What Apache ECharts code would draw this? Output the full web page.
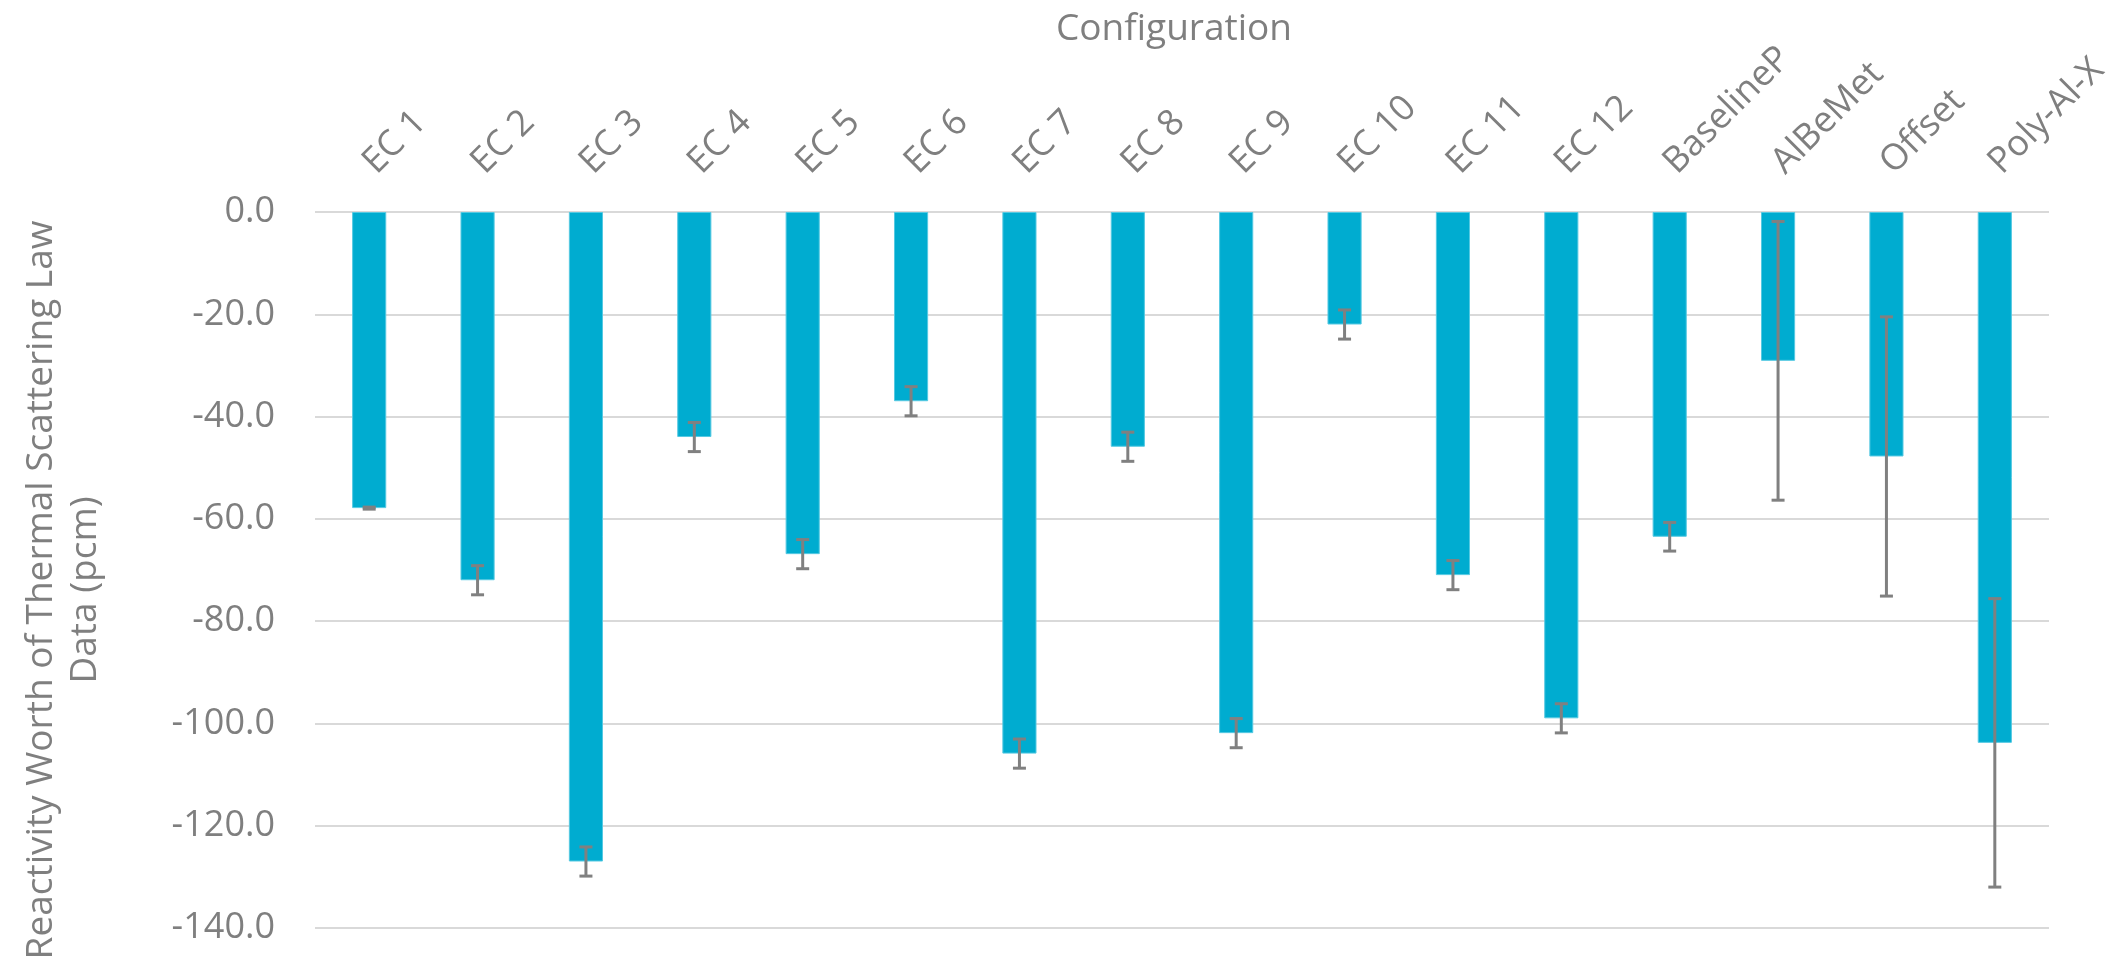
<!DOCTYPE html>
<html>
<head>
<meta charset="utf-8">
<style>
  html, body { margin: 0; padding: 0; background: #ffffff; }
  #chart { width: 2118px; height: 964px; }
</style>
<script src="https://cdn.jsdelivr.net/npm/echarts@6/dist/echarts.min.js"></script>
</head>
<body>
<div id="chart"></div>
<script>
// Reactivity worth (pcm) per configuration, with symmetric uncertainties
const categories = ['EC 1', 'EC 2', 'EC 3', 'EC 4', 'EC 5', 'EC 6', 'EC 7', 'EC 8',
  'EC 9', 'EC 10', 'EC 11', 'EC 12', 'BaselineP', 'AlBeMet', 'Offset', 'Poly-Al-X'];
const worth = [-57.9, -72.0, -127.0, -44.0, -66.9, -37.0, -105.9, -45.9,
  -101.9, -22.0, -71.0, -99.0, -63.5, -29.1, -47.8, -103.8];
const uncertainty = [0.2, 2.85, 2.85, 2.85, 2.85, 2.85, 2.85, 2.85,
  2.85, 2.85, 2.85, 2.85, 2.8, 27.25, 27.3, 28.2];
const yTicks = { min: -140, max: 0, step: 20 };

const textGrey = '#7f7f7f';
const font = 'Open Sans';

const chart = echarts.init(document.getElementById('chart'), null, { renderer: 'canvas' });

const errorData = categories.map((c, i) => [i, worth[i], uncertainty[i]]);

chart.setOption({
  animation: false,
  backgroundColor: '#ffffff',
  grid: {
    left: 315, right: 69, top: 212, bottom: 36,
    containLabel: false,
    outerBoundsMode: 'none'
  },
  xAxis: {
    type: 'category',
    position: 'top',
    data: categories,
    name: 'Configuration',
    nameLocation: 'middle',
    nameGap: 164,
    nameMoveOverlap: false,
    nameTextStyle: { color: textGrey, fontFamily: font, fontSize: 37, padding: [0, 16, 0, 0] },
    axisLine: { show: false },
    axisTick: { show: false },
    axisLabel: {
      rotate: 45,
      margin: 44,
      color: textGrey,
      fontFamily: font,
      fontSize: 36,
      interval: 0
    },
    splitLine: { show: false }
  },
  yAxis: {
    type: 'value',
    min: yTicks.min,
    max: yTicks.max,
    interval: yTicks.step,
    name: 'Reactivity Worth of Thermal Scattering Law\nData (pcm)',
    nameLocation: 'middle',
    nameGap: 208,
    nameMoveOverlap: false,
    nameTextStyle: {
      color: textGrey, fontFamily: font, fontSize: 37, lineHeight: 44,
      align: 'center', padding: [0, 40, 0, 0]
    },
    axisLine: { show: false },
    axisTick: { show: false },
    axisLabel: {
      margin: 40,
      color: textGrey,
      fontFamily: font,
      fontSize: 36,
      formatter: v => v.toFixed(1)
    },
    splitLine: { show: true, lineStyle: { color: '#d9d9d9', width: 2 } }
  },
  series: [
    {
      type: 'bar',
      data: worth,
      barWidth: '31.5%',
      itemStyle: { color: '#00acd0', borderColor: '#55c9e2', borderWidth: 1 },
      z: 2
    },
    {
      type: 'custom',
      data: errorData,
      z: 5,
      renderItem: function (params, api) {
        const idx = api.value(0);
        const v = api.value(1);
        const e = api.value(2);
        const top = api.coord([idx, v + e]);
        const bot = api.coord([idx, v - e]);
        const hw = 6.5;
        const style = { stroke: '#808080', lineWidth: 3 };
        return {
          type: 'group',
          children: [
            { type: 'line', shape: { x1: top[0], y1: top[1], x2: bot[0], y2: bot[1] }, style: style },
            { type: 'line', shape: { x1: top[0] - hw, y1: top[1], x2: top[0] + hw, y2: top[1] }, style: style },
            { type: 'line', shape: { x1: bot[0] - hw, y1: bot[1], x2: bot[0] + hw, y2: bot[1] }, style: style }
          ]
        };
      }
    }
  ]
});
</script>
</body>
</html>
